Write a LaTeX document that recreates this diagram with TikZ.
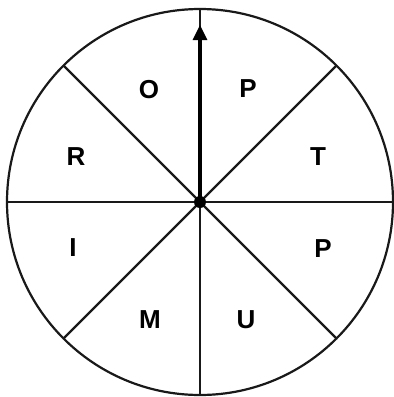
\documentclass[tikz,border=0pt]{standalone}
\usepackage{fontspec}
\setmainfont{Liberation Sans}
\usetikzlibrary{arrows.meta}
\begin{document}
\begin{tikzpicture}[x=1pt,y=-1pt,
  seg/.style={line width=2.2pt,black!90},
  lab/.style={font=\fontsize{26}{26}\selectfont\bfseries,inner sep=0pt}]
\useasboundingbox (0,0) rectangle (394,397);
\coordinate (c) at (200,202);
\draw[seg] (c) circle[radius=193];
\foreach \a in {0,45,...,315}{
  \draw[seg] (c) -- ++(\a:193);
}
\coordinate (tip) at (200,25);
\draw[line width=3.2pt,-{Triangle[length=15pt,width=14pt]}] (c) -- (tip);
\fill (c) circle[radius=6];
\node[lab] (o) at (149,90) {O};
\node[lab] (p1) at (248,89) {P};
\node[lab] (r) at (76,157) {R};
\node[lab] (t) at (318,157) {T};
\node[lab] (i) at (73,248) {I};
\node[lab] (p2) at (323,249) {P};
\node[lab] (m) at (150,320) {M};
\node[lab] (u) at (246,320) {U};
\end{tikzpicture}
\end{document}
